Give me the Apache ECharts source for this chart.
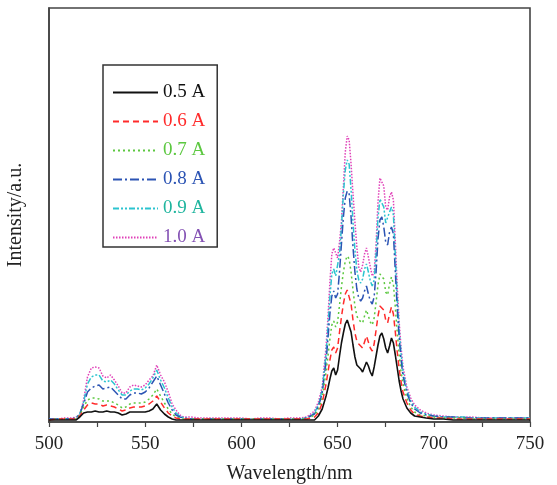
<!DOCTYPE html>
<html>
<head>
<meta charset="utf-8">
<script src="https://cdn.jsdelivr.net/npm/echarts@6/dist/echarts.min.js"></script>
<style>
  html, body { margin: 0; padding: 0; background: #fff; }
  #chart { width: 557px; height: 485px; }
</style>
</head>
<body>
<div id="chart"></div>
<script>
// Emission spectra at different discharge currents (wavelength in nm, intensity in arbitrary units)
const wavelength = [
  500, 504, 508, 512,
  514, 516, 518, 520, 522, 524, 526, 528, 530, 532, 534, 536, 538, 540, 542, 544, 546, 548, 550, 552, 554, 556, 558, 560, 562, 564, 566, 568, 570,
  574, 578, 582, 586, 590,
  595, 600, 605, 610, 615, 620, 625, 630,
  634, 638, 640, 642, 644,
  645, 646, 647, 648, 649, 650, 651, 652, 653, 654, 655, 656, 657, 658, 659, 660, 661, 662, 663, 664,
  665, 666, 667, 668, 669, 670, 671, 672, 673, 674, 675, 676, 677, 678, 679, 680, 681, 682, 683, 684,
  686, 688, 690, 693, 696, 700,
  705, 710, 715, 720, 725, 730, 735, 740, 745, 750
];

const current05 = [
  2, 2, 2, 2,
  2, 5, 9, 10, 10, 11, 10, 10, 11, 10, 10, 9, 7, 8, 10, 10, 10, 10, 10, 11, 13, 18, 12, 8, 5, 3, 2, 2, 2,
  2, 2, 2, 2, 2,
  2, 2, 2, 2, 2, 2, 2, 2,
  2, 2, 6, 13, 26,
  34, 43, 51, 54, 47, 52, 66, 79, 89, 98, 102, 101, 90, 77, 65, 57, 55, 53, 50, 55,
  60, 56, 50, 46, 55, 66, 77, 86, 89, 83, 74, 69, 76, 84, 79, 67, 54, 41, 31, 23,
  14, 9, 6, 5, 4, 3,
  3, 2, 2, 2, 2, 2, 2, 2, 2, 2
];

const current06 = [
  2, 3, 3, 3,
  3, 6, 12, 17, 19, 18, 18, 16, 17, 16, 15, 13, 11, 12, 14, 15, 15, 15, 16, 18, 21, 26, 20, 14, 9, 6, 4, 3, 3,
  3, 3, 3, 3, 3,
  3, 3, 3, 3, 3, 3, 3, 3,
  3, 5, 9, 19, 38,
  50, 62, 72, 75, 69, 74, 90, 105, 118, 128, 132, 130, 118, 102, 89, 81, 78, 76, 74, 80,
  86, 80, 74, 71, 78, 92, 106, 116, 118, 112, 102, 99, 108, 115, 108, 90, 70, 53, 40, 30,
  19, 12, 8, 6, 5, 4,
  4, 3, 3, 3, 3, 3, 3, 3, 3, 3
];

const current07 = [
  2, 3, 3, 3,
  3, 7, 15, 22, 24, 24, 23, 21, 21, 21, 19, 17, 14, 15, 18, 19, 19, 19, 20, 23, 27, 33, 26, 19, 13, 8, 5, 4, 3,
  3, 3, 3, 3, 3,
  3, 3, 3, 3, 3, 3, 3, 3,
  3, 7, 12, 24, 50,
  66, 83, 97, 101, 95, 100, 117, 135, 150, 161, 166, 163, 150, 132, 116, 106, 102, 100, 99, 106,
  112, 106, 100, 97, 104, 120, 137, 148, 150, 143, 130, 127, 138, 145, 138, 115, 89, 67, 50, 38,
  24, 15, 10, 7, 6, 5,
  4, 4, 4, 3, 3, 3, 3, 3, 3, 3
];

const current08 = [
  3, 3, 3, 3,
  4, 8, 18, 30, 34, 36, 37, 33, 34, 35, 31, 27, 23, 23, 27, 29, 29, 28, 30, 34, 40, 46, 37, 28, 19, 12, 7, 5, 4,
  3, 3, 3, 3, 3,
  3, 3, 3, 3, 3, 3, 3, 3,
  4, 8, 15, 29, 60,
  84, 108, 126, 131, 124, 128, 150, 178, 205, 224, 231, 228, 205, 175, 150, 133, 124, 121, 124, 131,
  136, 128, 121, 118, 125, 150, 183, 202, 205, 195, 180, 177, 190, 195, 188, 150, 113, 84, 62, 46,
  29, 19, 13, 9, 7, 6,
  5, 5, 4, 4, 4, 4, 4, 4, 4, 4
];

const current09 = [
  3, 3, 3, 3,
  4, 8, 20, 38, 45, 47, 47, 41, 40, 42, 38, 32, 27, 27, 31, 33, 33, 32, 34, 38, 44, 52, 42, 34, 24, 15, 9, 6, 4,
  3, 3, 3, 3, 3,
  3, 3, 3, 3, 3, 3, 3, 3,
  4, 9, 17, 32, 68,
  95, 125, 148, 153, 146, 148, 168, 195, 228, 252, 262, 258, 232, 200, 172, 152, 142, 139, 143, 153,
  158, 150, 141, 136, 142, 168, 204, 223, 225, 215, 199, 197, 210, 215, 207, 166, 124, 92, 68, 50,
  32, 21, 15, 10, 8, 6,
  5, 5, 5, 4, 4, 4, 4, 4, 4, 4
];

const current10 = [
  3, 3, 4, 4,
  5, 7, 22, 45, 54, 55, 54, 46, 44, 47, 42, 36, 29, 29, 35, 37, 36, 35, 37, 42, 46, 57, 47, 40, 30, 18, 12, 7, 5,
  5, 4, 4, 4, 4,
  4, 4, 3, 4, 4, 3, 4, 4,
  5, 11, 20, 35, 75,
  105, 140, 168, 174, 169, 164, 180, 200, 235, 270, 286, 282, 258, 228, 200, 175, 155, 150, 157, 168,
  174, 165, 155, 146, 150, 178, 220, 244, 246, 236, 215, 212, 225, 230, 222, 180, 135, 100, 74, 55,
  35, 24, 17, 12, 9, 7,
  6, 5, 5, 5, 4, 4, 4, 4, 4, 4
];

const seriesNames = ['0.5 A', '0.6 A', '0.7 A', '0.8 A', '0.9 A', '1.0 A'];
const seriesValues = [current05, current06, current07, current08, current09, current10];
const xTicks = [500, 550, 600, 650, 700, 750];

// Line appearance for each current
const lineColors = ['#111111', '#ff2b2b', '#5cc840', '#2c54b4', '#2cc4d0', '#e040b8'];
const textColors = ['#111111', '#ff2b2b', '#5cc840', '#2c54b4', '#1fb59e', '#8452b4'];
const dashTypes = ['solid', [6, 4], [2, 3], [9, 3, 2, 3], [6, 2, 2, 2, 2, 2], [1.5, 1.5]];

const serif = '"Liberation Serif", "DejaVu Serif", serif';

const chart = echarts.init(document.getElementById('chart'), null, { renderer: 'canvas' });

const series = seriesNames.map((name, k) => ({
  name: name,
  type: 'line',
  symbol: 'none',
  smooth: false,
  z: 10 - k,
  data: wavelength.map((w, i) => [w, seriesValues[k][i]]),
  lineStyle: { color: lineColors[k], width: k === 0 ? 1.6 : 1.5, type: dashTypes[k] },
  itemStyle: { color: lineColors[k] }
}));

chart.setOption({
  animation: false,
  backgroundColor: '#ffffff',
  grid: {
    left: 49, top: 8, right: 27, bottom: 63,
    containLabel: false,
    outerBoundsMode: 'none',
    show: true, borderColor: '#444', borderWidth: 1.6, backgroundColor: 'transparent'
  },
  legend: {
    orient: 'vertical',
    left: 103, top: 65,
    padding: [18, 12, 0, 9],
    itemWidth: 45, itemHeight: 14, itemGap: 10,
    borderColor: '#333', borderWidth: 1.5,
    itemStyle: { opacity: 0 },
    data: seriesNames.map((n, k) => ({ name: n, textStyle: { color: textColors[k] } })),
    textStyle: { fontFamily: serif, fontSize: 19 }
  },
  xAxis: {
    type: 'value',
    min: 500, max: 750, interval: 50,
    name: 'Wavelength/nm',
    nameLocation: 'middle', nameGap: 42,
    nameTextStyle: { fontFamily: serif, fontSize: 20, color: '#222' },
    axisLine: { show: true, lineStyle: { color: '#444', width: 1.6 } },
    axisTick: { show: true, inside: false, length: 5, lineStyle: { color: '#444', width: 1.2 } },
    minorTick: { show: true, splitNumber: 2, length: 5, lineStyle: { color: '#444', width: 1.2 } },
    splitLine: { show: false },
    axisLabel: {
      fontFamily: serif, fontSize: 19, color: '#222', margin: 13,
      formatter: v => (xTicks.indexOf(v) >= 0 ? String(v) : '')
    }
  },
  yAxis: {
    type: 'value',
    min: 0, max: 414,
    name: 'Intensity/a.u.',
    nameLocation: 'middle', nameGap: 23,
    nameTextStyle: { fontFamily: serif, fontSize: 20, color: '#222' },
    axisLine: { show: true, lineStyle: { color: '#444', width: 1.6 } },
    axisTick: { show: false },
    axisLabel: { show: false },
    splitLine: { show: false }
  },
  series: series
});
</script>
</body>
</html>
